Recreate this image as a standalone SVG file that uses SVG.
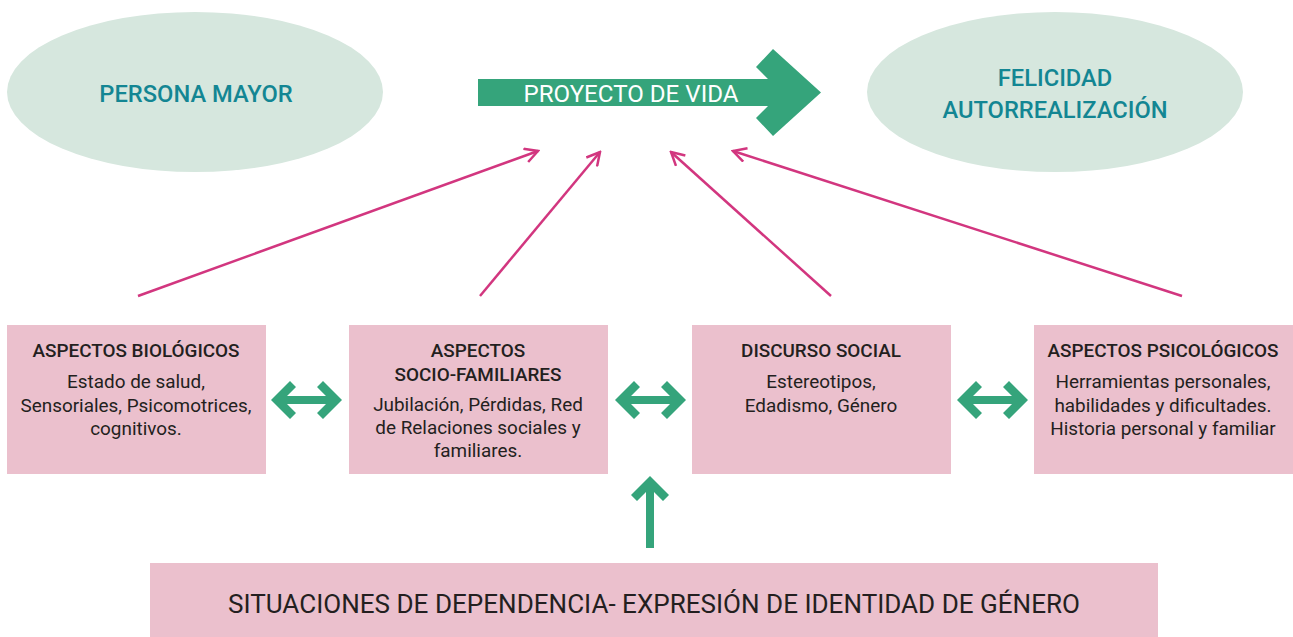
<svg xmlns="http://www.w3.org/2000/svg" width="1293" height="637" viewBox="0 0 1293 637">
<style>
.ell{fill:#d6e7de}
.ellt{font-family:Roboto,"Liberation Sans",sans-serif;font-size:23.7px;font-weight:500;fill:#138693;text-anchor:middle}
.box{fill:#ebc0cd}
.tt{font-family:Roboto,"Liberation Sans",sans-serif;font-size:18.9px;font-weight:500;fill:#231f20;text-anchor:middle}
.bt{font-family:Roboto,"Liberation Sans",sans-serif;font-size:18.9px;font-weight:400;fill:#231f20;text-anchor:middle}
.grn{fill:#35a47b}
.mag{stroke:#d2367f;stroke-width:2.5;fill:none}
</style>
<defs>
<marker id="ah" viewBox="0 0 16 16" refX="14" refY="8" markerWidth="16" markerHeight="16" markerUnits="userSpaceOnUse" orient="auto">
<path d="M1,1 L14,8 L1,15" fill="none" stroke="#d2367f" stroke-width="2.5"/>
</marker>
<path id="dbl" d="M0,0 L19,-19 L25,-13 L16,-4 L55,-4 L46,-13 L52,-19 L71,0 L52,19 L46,13 L55,4 L16,4 L25,13 L19,19 Z"/>
</defs>
<g id="persona-mayor">
<ellipse class="ell" cx="195" cy="92" rx="188" ry="80"/>
<text class="ellt" x="196" y="102">PERSONA MAYOR</text>
</g>
<g id="felicidad">
<ellipse class="ell" cx="1055" cy="92" rx="188" ry="80"/>
<text class="ellt" x="1055" y="86">FELICIDAD</text>
<text class="ellt" x="1055" y="118">AUTORREALIZACIÓN</text>
</g>
<g id="proyecto-de-vida">
<polygon class="grn" points="478,79 768,79 756,67 773,49 821,92.5 773,136 756,118 768,106 478,106"/>
<text x="631" y="102" font-family="Roboto,'Liberation Sans',sans-serif" font-size="23.5" fill="#ffffff" text-anchor="middle" textLength="215" lengthAdjust="spacingAndGlyphs">PROYECTO DE VIDA</text>
</g>
<g id="aspectos-biologicos">
<rect class="box" x="7" y="325" width="259" height="149"/>
<text class="tt" x="136" y="357">ASPECTOS BIOLÓGICOS</text>
<text class="bt" x="136" y="388">Estado de salud,</text>
<text class="bt" x="136" y="412">Sensoriales, Psicomotrices,</text>
<text class="bt" x="136" y="435">cognitivos.</text>
</g>
<g id="aspectos-socio-familiares">
<rect class="box" x="349" y="325" width="259" height="149"/>
<text class="tt" x="478" y="357">ASPECTOS</text>
<text class="tt" x="478" y="381">SOCIO-FAMILIARES</text>
<text class="bt" x="478" y="411">Jubilación, Pérdidas, Red</text>
<text class="bt" x="478" y="434">de Relaciones sociales y</text>
<text class="bt" x="478" y="457">familiares.</text>
</g>
<g id="discurso-social">
<rect class="box" x="692" y="325" width="259" height="149"/>
<text class="tt" x="821" y="357">DISCURSO SOCIAL</text>
<text class="bt" x="821" y="388">Estereotipos,</text>
<text class="bt" x="821" y="412">Edadismo, Género</text>
</g>
<g id="aspectos-psicologicos">
<rect class="box" x="1034" y="325" width="259" height="149"/>
<text class="tt" x="1163" y="357">ASPECTOS PSICOLÓGICOS</text>
<text class="bt" x="1163" y="388">Herramientas personales,</text>
<text class="bt" x="1163" y="412">habilidades y dificultades.</text>
<text class="bt" x="1163" y="435">Historia personal y familiar</text>
</g>
<g id="situaciones-dependencia">
<rect class="box" x="150" y="563" width="1008" height="74"/>
<text x="654" y="613" font-family="Roboto,'Liberation Sans',sans-serif" font-size="26" font-weight="400" fill="#231f20" text-anchor="middle" textLength="852" lengthAdjust="spacingAndGlyphs">SITUACIONES DE DEPENDENCIA- EXPRESIÓN DE IDENTIDAD DE GÉNERO</text>
</g>
<g id="connectors">
<line class="mag" x1="138" y1="296" x2="538" y2="151" marker-end="url(#ah)"/>
<line class="mag" x1="480" y1="296" x2="600" y2="152" marker-end="url(#ah)"/>
<line class="mag" x1="831" y1="296" x2="671" y2="152" marker-end="url(#ah)"/>
<line class="mag" x1="1182" y1="296" x2="733" y2="151" marker-end="url(#ah)"/>
<use href="#dbl" class="grn" x="271" y="400"/>
<use href="#dbl" class="grn" x="615" y="400"/>
<use href="#dbl" class="grn" x="957" y="400"/>
<polygon class="grn" points="650,476 669,495 663,501 654,492 654,548 646,548 646,492 637,501 631,495"/>
</g>
</svg>
